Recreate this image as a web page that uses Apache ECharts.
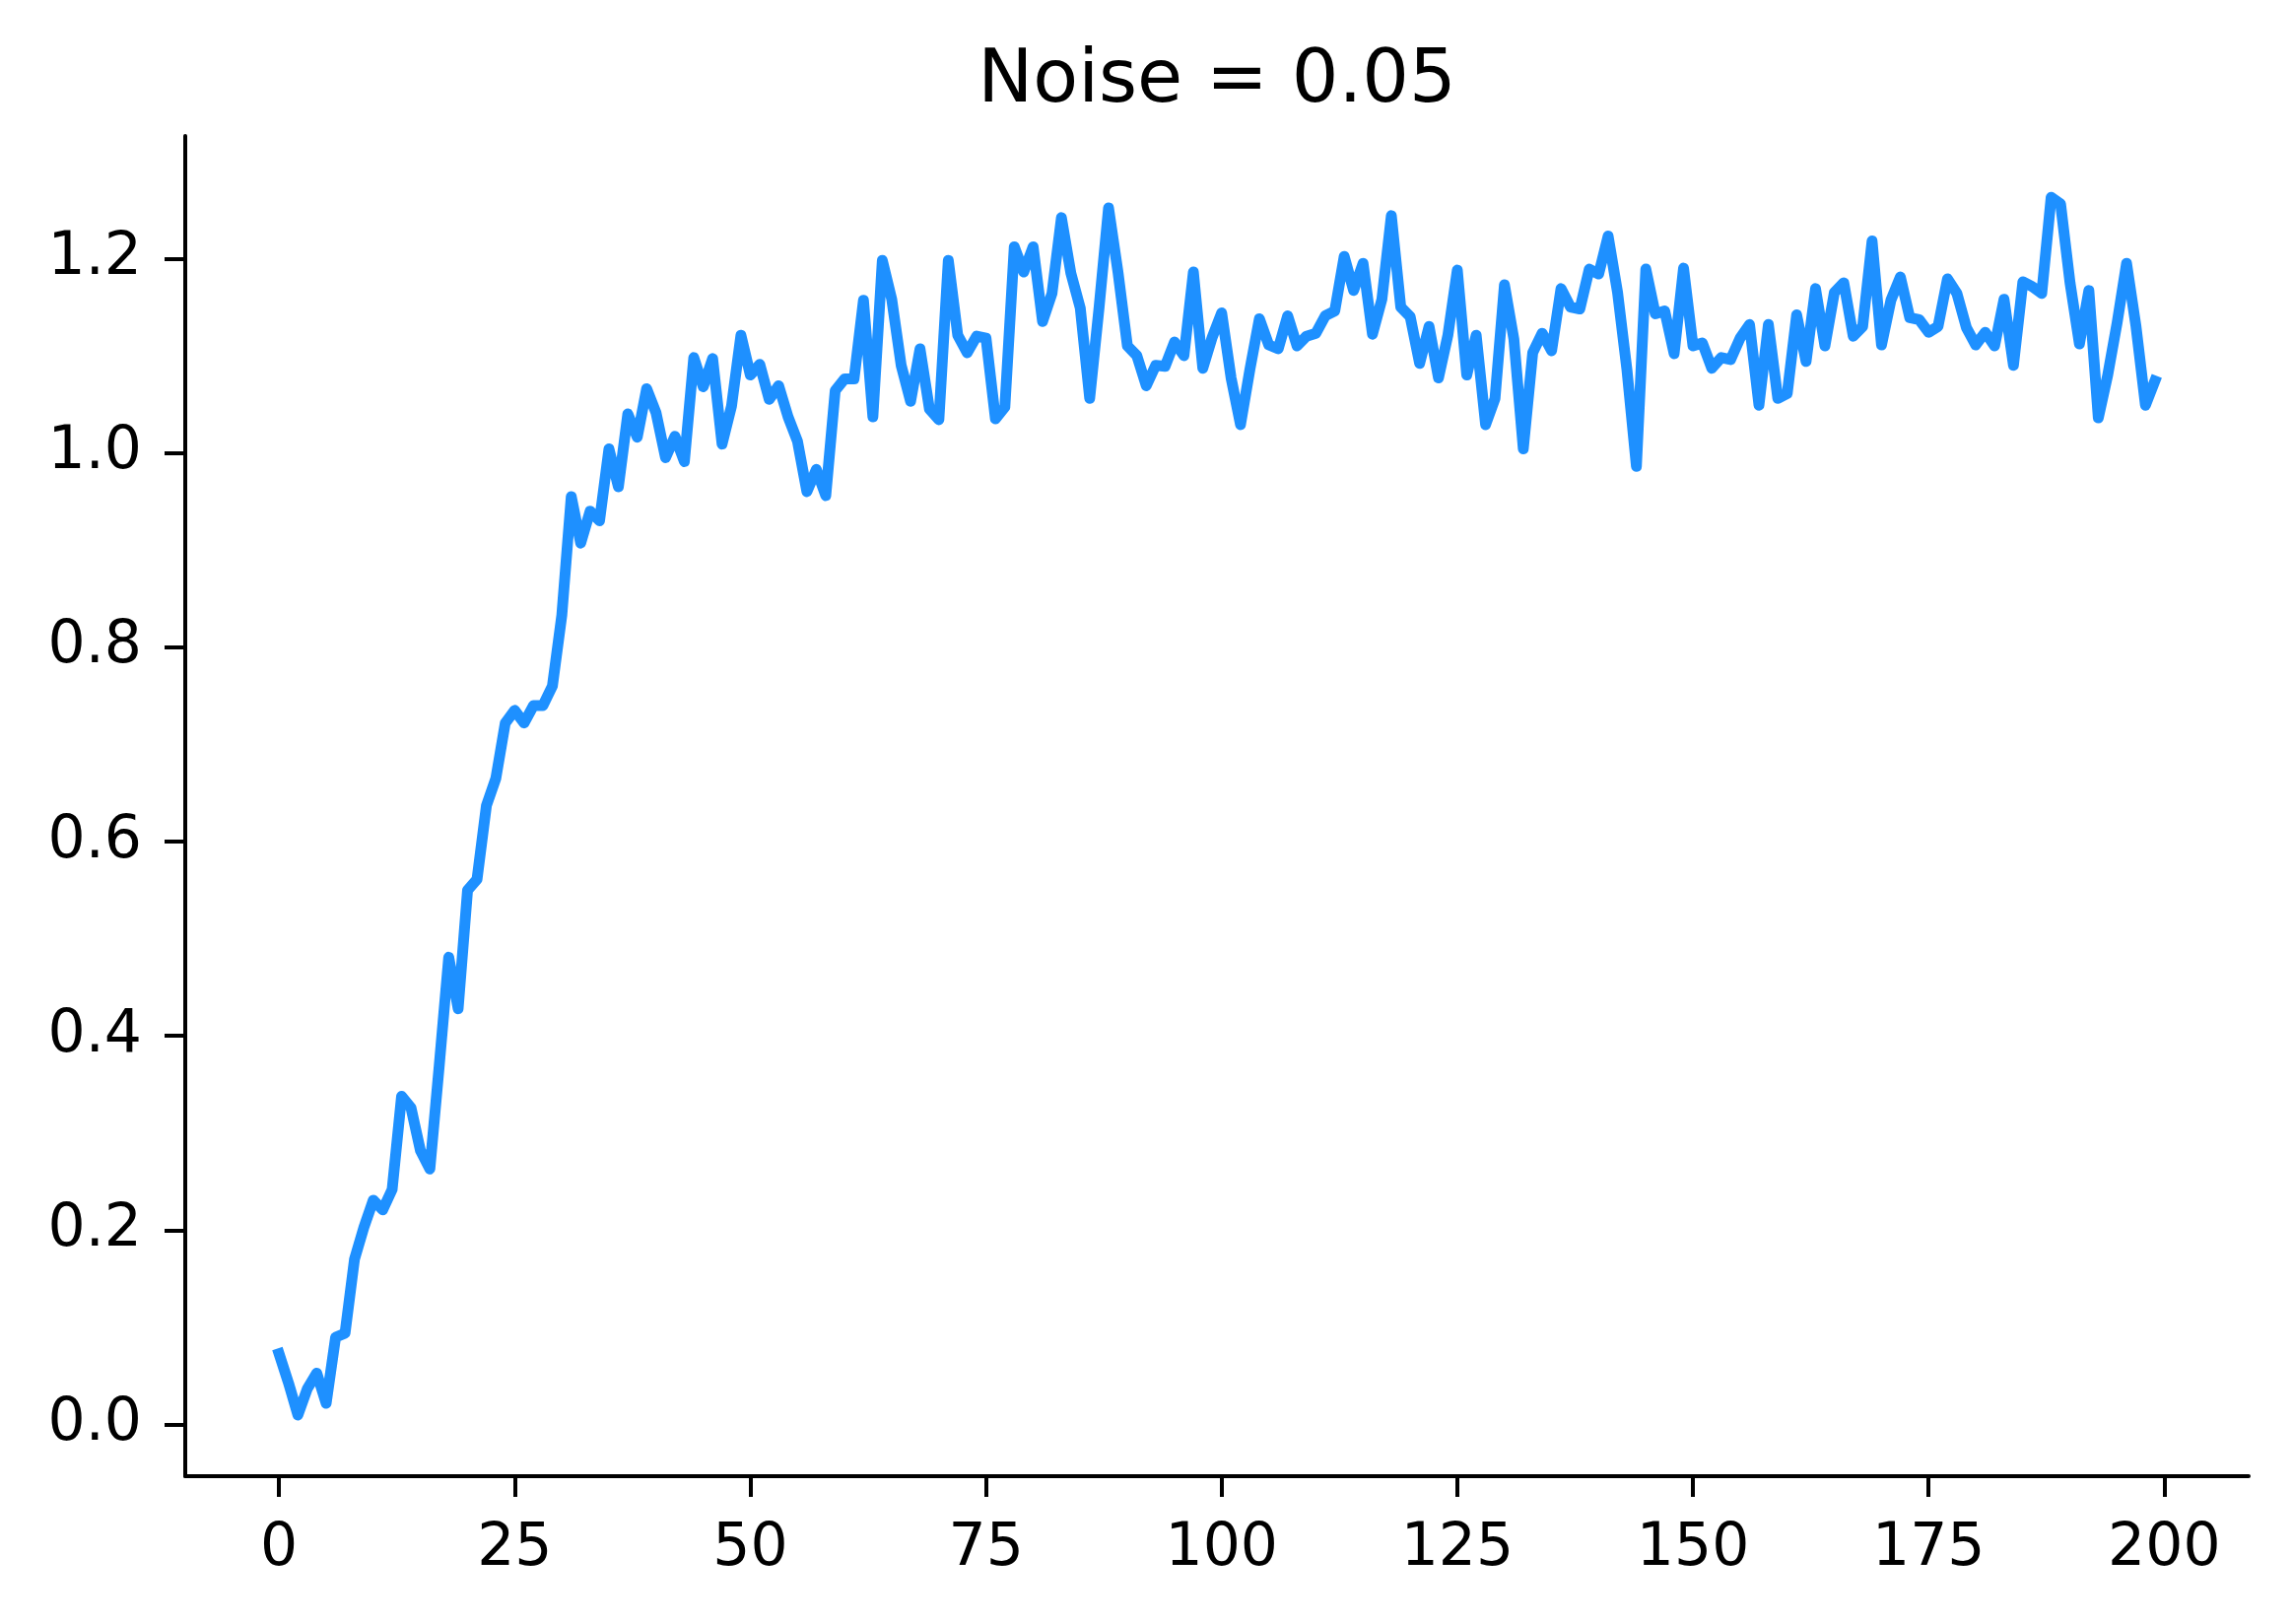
<!DOCTYPE html>
<html>
<head>
<meta charset="utf-8">
<title>Noise = 0.05</title>
<script src="https://cdn.jsdelivr.net/npm/echarts@6/dist/echarts.min.js"></script>
<style>
  html, body { margin: 0; padding: 0; background: #fff; }
  #chart { width: 2326px; height: 1648px; }
</style>
</head>
<body>
<div id="chart"></div>
<script>
// values, one per step 0..199
var values = [
  0.073, 0.043, 0.010, 0.037, 0.053, 0.022, 0.090, 0.094, 0.170, 0.203,
  0.231, 0.221, 0.242, 0.338, 0.326, 0.282, 0.263, 0.370, 0.481, 0.428,
  0.550, 0.561, 0.637, 0.665, 0.722, 0.735, 0.722, 0.740, 0.740, 0.760,
  0.833, 0.955, 0.907, 0.940, 0.930, 1.004, 0.965, 1.040, 1.016, 1.066,
  1.041, 0.995, 1.017, 0.991, 1.098, 1.068, 1.097, 1.009, 1.048, 1.121,
  1.080, 1.091, 1.055, 1.069, 1.037, 1.012, 0.960, 0.983, 0.956, 1.064,
  1.076, 1.076, 1.157, 1.037, 1.198, 1.158, 1.090, 1.053, 1.107, 1.045,
  1.034, 1.198, 1.121, 1.103, 1.120, 1.118, 1.035, 1.047, 1.212, 1.186,
  1.212, 1.135, 1.164, 1.242, 1.185, 1.149, 1.056, 1.150, 1.252, 1.186,
  1.110, 1.100, 1.069, 1.090, 1.089, 1.114, 1.100, 1.186, 1.087, 1.119,
  1.144, 1.077, 1.029, 1.086, 1.138, 1.111, 1.107, 1.141, 1.110, 1.120,
  1.123, 1.141, 1.146, 1.202, 1.167, 1.195, 1.122, 1.158, 1.244, 1.150,
  1.140, 1.092, 1.130, 1.077, 1.121, 1.188, 1.080, 1.121, 1.029, 1.056,
  1.173, 1.117, 1.004, 1.103, 1.123, 1.105, 1.169, 1.150, 1.148, 1.189,
  1.184, 1.223, 1.165, 1.085, 0.986, 1.189, 1.143, 1.146, 1.102, 1.190,
  1.110, 1.113, 1.087, 1.098, 1.096, 1.118, 1.132, 1.049, 1.132, 1.056,
  1.061, 1.142, 1.094, 1.169, 1.110, 1.165, 1.175, 1.120, 1.130, 1.218,
  1.111, 1.157, 1.181, 1.139, 1.137, 1.124, 1.130, 1.179, 1.164, 1.129,
  1.111, 1.124, 1.110, 1.158, 1.090, 1.176, 1.171, 1.164, 1.263, 1.256,
  1.175, 1.112, 1.167, 1.036, 1.080, 1.134, 1.195, 1.130, 1.049, 1.074
];
var xTicks = [0, 25, 50, 75, 100, 125, 150, 175, 200];
var yTicks = [0.0, 0.2, 0.4, 0.6, 0.8, 1.0, 1.2];
var titleText = "Noise = 0.05";

var myChart = echarts.init(document.getElementById("chart"), null, {renderer: "canvas"});

var seriesData = values.map(function(v, i){
	return [i, v];
});

var font = "DejaVu Sans";

var option = {
	backgroundColor: "#ffffff",
	animation: false,
	title: {
		text: titleText,
		left: 1230,
		top: 41,
		textAlign: "center",
		textStyle: {
			fontFamily: font,
			fontSize: 75,
			fontWeight: "normal",
			color: "#000000"
		}
	},
	grid: {
		left: 188,
		right: 44,
		top: 138,
		bottom: 150,
		containLabel: false,
		outerBoundsMode: "none"
	},
	xAxis: {
		type: "value",
		min: -9.95,
		max: 208.95,
		splitLine: {show: false},
		axisLine: {show: true, onZero: false, lineStyle: {color: "#000", width: 4}},
		axisTick: {show: true, inside: false, length: 21, customValues: xTicks, lineStyle: {color: "#000", width: 4}},
		axisLabel: {
			customValues: xTicks,
			margin: 44,
			fontFamily: font,
			fontSize: 60,
			color: "#000",
			formatter: function(v){ return String(v); }
		}
	},
	yAxis: {
		type: "value",
		min: -0.053,
		max: 1.326,
		splitLine: {show: false},
		axisLine: {show: true, onZero: false, lineStyle: {color: "#000", width: 4}},
		axisTick: {show: true, inside: false, length: 21, customValues: yTicks, lineStyle: {color: "#000", width: 4}},
		axisLabel: {
			customValues: yTicks,
			margin: 44,
			fontFamily: font,
			fontSize: 60,
			color: "#000",
			formatter: function(v){ return v.toFixed(1); }
		}
	},
	series: [{
		type: "line",
		data: seriesData,
		showSymbol: false,
		smooth: false,
		lineStyle: {
			color: "#1E90FF",
			width: 11,
			cap: "square",
			join: "round"
		}
	}]
};
myChart.setOption(option);
</script>
</body>
</html>
